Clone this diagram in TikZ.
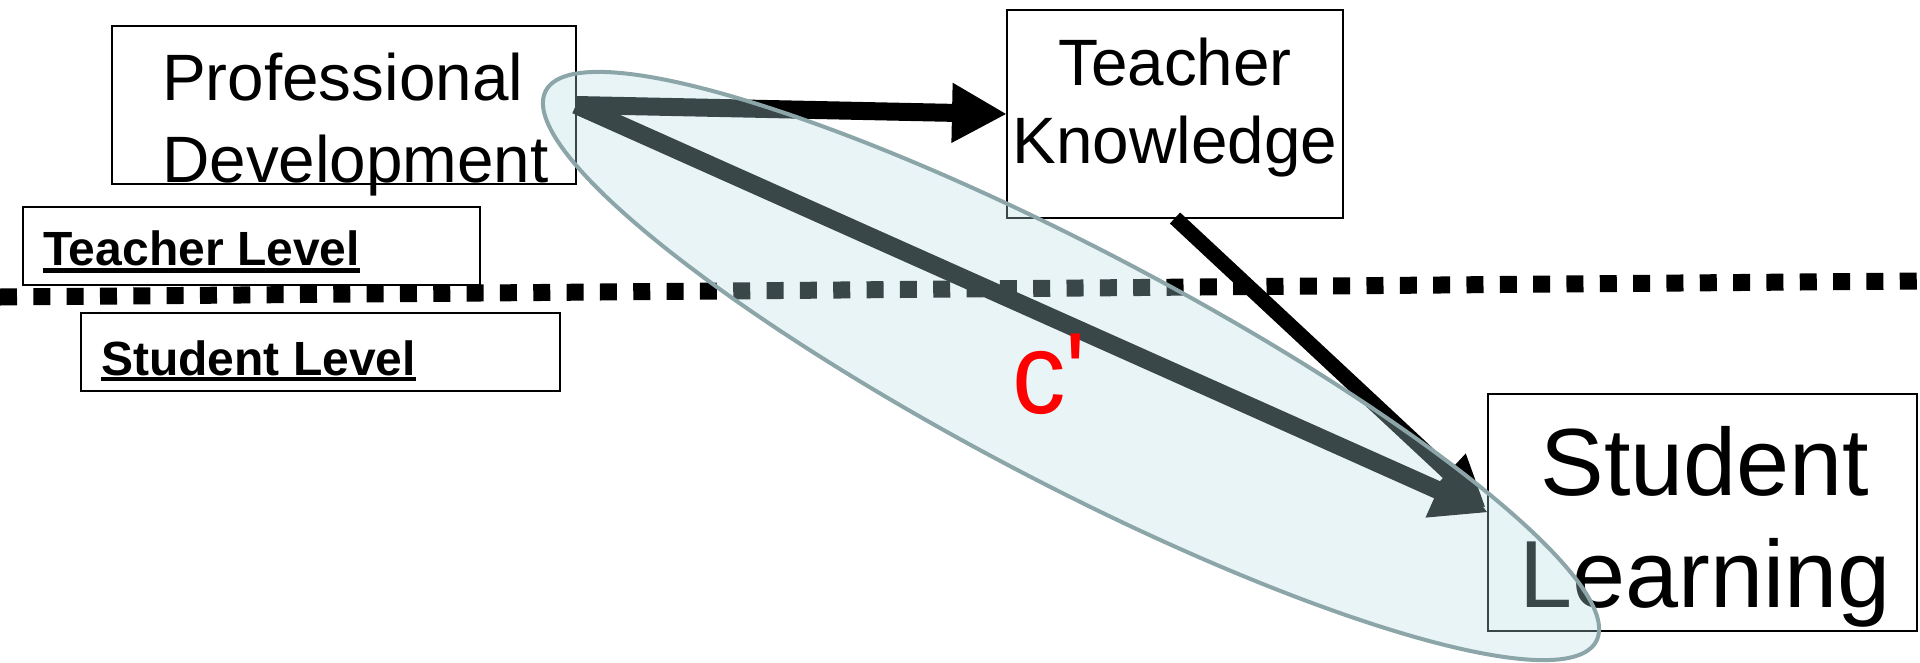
\documentclass[tikz,border=0pt]{standalone}
\usepackage{fontspec}
\setmainfont{Liberation Sans}
\newfontfamily\primefont{Liberation Sans}
\usetikzlibrary{arrows.meta,shapes.geometric}
\definecolor{hlfill}{RGB}{183,221,227}
\definecolor{hledge}{RGB}{139,165,168}
\definecolor{primered}{RGB}{255,0,0}
\begin{document}
\begin{tikzpicture}[x=1pt,y=-1pt,
  box/.style={draw=black, line width=2pt, fill=white, inner sep=0pt, outer sep=0pt},
  boxtext/.style={inner sep=0pt, text=black},
  lvltext/.style={inner sep=0pt, text=black, font=\bfseries\fontsize{48}{58}\selectfont},
  uline/.style={line width=4.5pt},
  bigarrow/.style={line width=18pt, -{Triangle[length=55pt,width=56pt]}},
  medarrow/.style={line width=15pt, -{Triangle[length=52pt,width=48pt]}},
  levelline/.style={line width=17pt, dash pattern=on 17pt off 16.33pt},
  highlight/.style={ellipse, draw=hledge, line width=4pt, fill=hlfill, fill opacity=0.32, draw opacity=1, inner sep=0pt}
]
\useasboundingbox (0,0) rectangle (1920,662);

% boxes
\node[box, minimum width=464pt, minimum height=158pt] (pd) at (344,105) {};
\node[box, minimum width=336pt, minimum height=208pt] (tk) at (1175,114) {};
\node[box, minimum width=429pt, minimum height=237pt] (sl) at (1702.5,512.5) {};
\node[box, minimum width=457pt, minimum height=78pt] (tlv) at (251.5,246) {};
\node[box, minimum width=479pt, minimum height=78pt] (slv) at (320.5,352) {};

% box texts
\node[boxtext, anchor=north west, align=left, font=\fontsize{65.6}{82}\selectfont] (pdtext) at (162,40) {\rule{0pt}{60pt}Professional\\Development};
\node[boxtext, anchor=north, align=center, font=\fontsize{65.6}{78}\selectfont] (tktext) at (1175,25) {\rule{0pt}{60pt}Teacher\\Knowledge};
\node[boxtext, anchor=north, align=center, font=\fontsize{95.4}{112}\selectfont] (sltext) at (1705,405) {\rule{0pt}{90pt}Student\\Learning};

% level labels
\node[lvltext, anchor=base west] (tlt) at (43,265) {Teacher Level};
\node[lvltext, anchor=base west] (slt) at (101,375) {Student Level};
\draw[uline] ([yshift=-5.5pt]tlt.base west) -- ([yshift=-5.5pt]tlt.base east);
\draw[uline] ([yshift=-4pt]slt.base west) -- ([yshift=-4pt]slt.base east);

% arrows
\draw[bigarrow] (pd.east) -- (tk.west);
\draw[medarrow] (tk.south) -- ([xshift=-2pt,yshift=4.5pt]sl.west);
\draw[bigarrow] (pd.east) -- (sl.west);

% level separator
\coordinate (ll) at (0,297);
\coordinate (lr) at (1920,281);
\draw[levelline] (ll) -- (lr);

% highlight ellipse
\node[highlight, minimum width=1186pt, minimum height=234pt, rotate=-27.65] (hl) at (1071,366) {};

% c' label
\node[inner sep=0pt, text=primered, anchor=base west, font=\primefont\fontsize{107}{107}\selectfont, yscale=1.08] (cp) at (1012,413) {c'};
\end{tikzpicture}
\end{document}
